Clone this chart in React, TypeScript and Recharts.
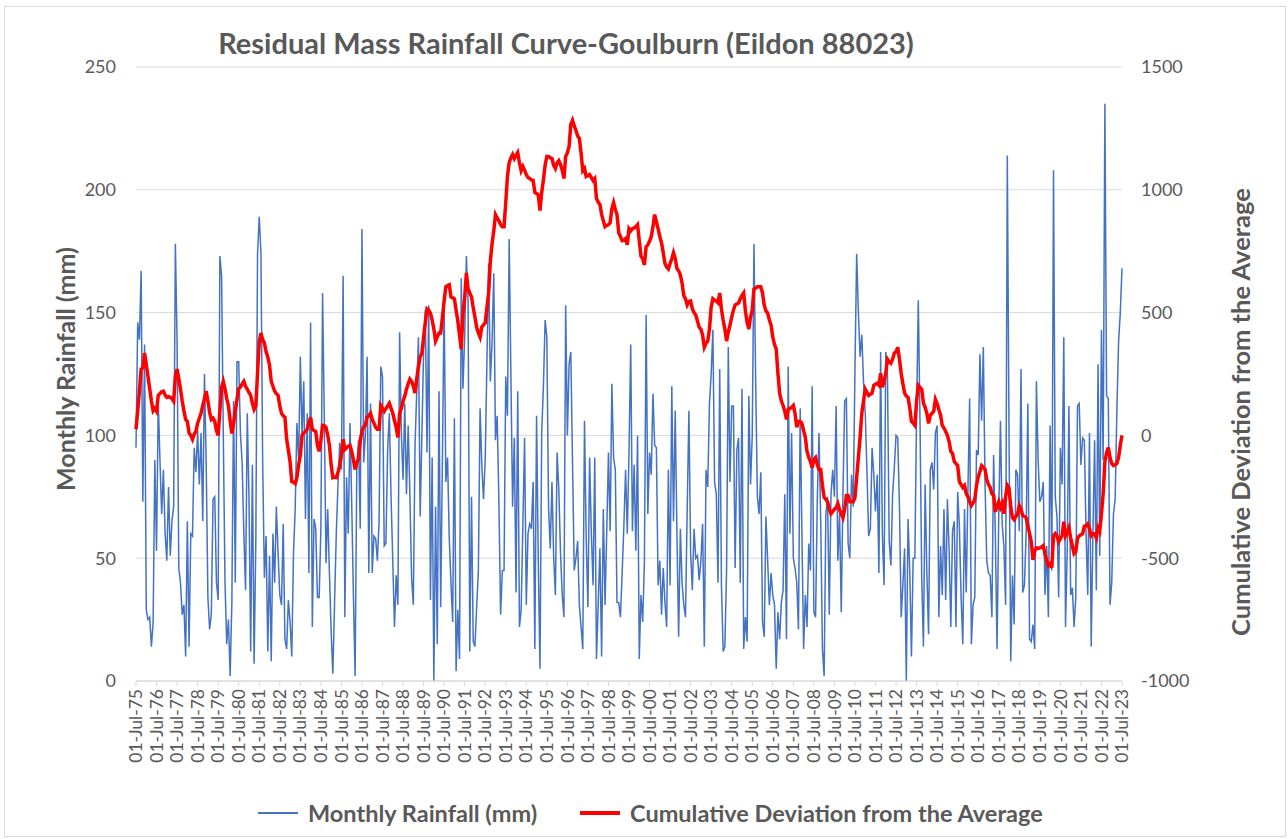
import React from 'react';
import { LineChart, Line, XAxis, YAxis, CartesianGrid } from 'recharts';

// x-axis tick labels, one per July (every 12 months)
const yearTicks = [
  '01-Jul-75', '01-Jul-76', '01-Jul-77', '01-Jul-78', '01-Jul-79', '01-Jul-80', '01-Jul-81',
  '01-Jul-82', '01-Jul-83', '01-Jul-84', '01-Jul-85', '01-Jul-86', '01-Jul-87', '01-Jul-88',
  '01-Jul-89', '01-Jul-90', '01-Jul-91', '01-Jul-92', '01-Jul-93', '01-Jul-94', '01-Jul-95',
  '01-Jul-96', '01-Jul-97', '01-Jul-98', '01-Jul-99', '01-Jul-00', '01-Jul-01', '01-Jul-02',
  '01-Jul-03', '01-Jul-04', '01-Jul-05', '01-Jul-06', '01-Jul-07', '01-Jul-08', '01-Jul-09',
  '01-Jul-10', '01-Jul-11', '01-Jul-12', '01-Jul-13', '01-Jul-14', '01-Jul-15', '01-Jul-16',
  '01-Jul-17', '01-Jul-18', '01-Jul-19', '01-Jul-20', '01-Jul-21', '01-Jul-22', '01-Jul-23',
];

const rainTicks = [0, 50, 100, 150, 200, 250];
const devTicks = [-1000, -500, 0, 500, 1000, 1500];

// monthly rainfall (mm), Jul-75 .. Jul-23, one row per July-June year
const rainfall = [
  95, 146, 139, 167, 73, 137, 29, 25, 26, 14, 24, 90,
  53, 114, 90, 68, 86, 60, 49, 79, 51, 65, 71, 178,
  138, 46, 40, 27, 31, 10, 65, 14, 60, 59, 95, 85,
  102, 80, 101, 65, 125, 89, 34, 21, 27, 74, 75, 40,
  33, 173, 165, 100, 40, 15, 25, 2, 32, 114, 40, 130,
  130, 101, 89, 60, 37, 109, 75, 12, 88, 7, 57, 174,
  189, 174, 89, 42, 59, 12, 51, 8, 60, 40, 71, 52,
  35, 31, 64, 17, 13, 33, 24, 10, 52, 70, 105, 90,
  132, 100, 122, 66, 109, 44, 146, 22, 66, 62, 34, 34,
  62, 158, 107, 48, 70, 44, 20, 3, 32, 60, 80, 97,
  86, 165, 26, 83, 60, 105, 73, 35, 2, 88, 98, 62,
  184, 89, 100, 132, 44, 113, 44, 59, 58, 49, 65, 128,
  124, 55, 56, 94, 109, 75, 49, 22, 43, 31, 142, 101,
  82, 113, 76, 104, 76, 42, 31, 96, 118, 140, 67, 100,
  134, 151, 93, 153, 33, 91, 0, 71, 15, 118, 30, 90,
  155, 81, 91, 58, 40, 24, 107, 4, 29, 9, 164, 119,
  140, 173, 155, 12, 75, 16, 14, 30, 45, 111, 88, 74,
  90, 130, 170, 122, 138, 166, 98, 108, 73, 27, 45, 45,
  124, 108, 180, 125, 71, 99, 36, 118, 22, 29, 64, 99,
  31, 60, 64, 62, 81, 13, 108, 49, 5, 101, 120, 147,
  140, 71, 54, 81, 50, 35, 93, 78, 52, 35, 26, 153,
  100, 129, 134, 89, 45, 50, 57, 31, 22, 13, 106, 58,
  30, 91, 60, 39, 91, 9, 31, 54, 10, 70, 31, 61,
  93, 61, 121, 91, 86, 32, 32, 26, 44, 63, 86, 60,
  93, 137, 61, 88, 53, 100, 9, 35, 24, 49, 149, 68,
  93, 84, 117, 96, 95, 39, 49, 27, 46, 32, 22, 86,
  39, 120, 65, 110, 60, 18, 62, 40, 31, 26, 70, 110,
  52, 37, 62, 50, 51, 41, 49, 64, 14, 86, 79, 113,
  125, 143, 81, 76, 40, 127, 39, 12, 14, 45, 136, 81,
  112, 112, 46, 94, 99, 40, 119, 13, 26, 16, 116, 80,
  100, 178, 122, 75, 68, 85, 24, 18, 67, 49, 31, 44,
  35, 31, 5, 28, 17, 32, 37, 76, 17, 128, 60, 101,
  50, 46, 40, 21, 111, 61, 13, 35, 22, 56, 45, 120,
  28, 26, 74, 101, 65, 13, 2, 68, 75, 27, 76, 86,
  75, 112, 49, 68, 28, 77, 114, 115, 56, 50, 84, 71,
  127, 174, 150, 132, 141, 122, 109, 86, 59, 62, 95, 84,
  69, 84, 44, 134, 60, 39, 134, 124, 57, 47, 76, 87,
  100, 99, 71, 26, 39, 54, 0, 66, 45, 10, 50, 50,
  109, 155, 106, 42, 14, 80, 44, 19, 86, 89, 78, 101,
  104, 26, 55, 35, 70, 33, 74, 53, 22, 61, 65, 22,
  77, 63, 34, 15, 70, 36, 78, 115, 15, 31, 34, 94,
  92, 133, 106, 136, 80, 49, 44, 43, 26, 92, 60, 13,
  68, 106, 64, 55, 31, 214, 100, 8, 43, 23, 86, 84,
  61, 127, 36, 39, 60, 113, 17, 16, 23, 13, 122, 90,
  73, 75, 81, 35, 55, 26, 104, 45, 208, 75, 67, 34,
  95, 80, 140, 22, 53, 112, 35, 38, 22, 34, 112, 113,
  88, 99, 98, 60, 35, 101, 14, 60, 98, 37, 129, 51,
  143, 90, 235, 116, 115, 31, 40, 68, 74, 110, 138, 150,
  168,
];

// cumulative deviation from the average, same months
const deviation = [
  25, 100, 180, 270, 275, 335, 290, 240, 190, 140, 100, 110,
  98, 163, 170, 178, 180, 165, 155, 158, 155, 150, 139, 240,
  270, 230, 188, 140, 100, 65, 57, 10, 0, -16, 5, 16,
  50, 70, 90, 122, 150, 180, 140, 95, 65, 70, 57, 20,
  0, 100, 196, 220, 190, 150, 122, 60, 8, 49, 100, 147,
  190, 196, 210, 220, 200, 188, 175, 163, 130, 106, 120, 253,
  380, 417, 390, 376, 340, 319, 286, 220, 200, 180, 170, 163,
  120, 90, 80, 74, -16, -60, -106, -188, -190, -196, -172, -120,
  -82, 0, 10, 16, 25, 50, 74, 25, 20, 16, -41, -65,
  -20, 41, 40, 33, 0, -41, -120, -172, -170, -172, -150, -123,
  -80, -16, -57, -50, -45, -41, -65, -100, -139, -110, -98, -20,
  16, 35, 41, 74, 80, 90, 65, 50, 33, 25, 25, 122,
  110, 98, 110, 120, 131, 110, 90, 60, 33, -8, 90, 110,
  139, 160, 188, 210, 229, 220, 200, 172, 230, 280, 319, 335,
  400, 460, 515, 510, 498, 470, 433, 384, 400, 417, 417, 480,
  547, 605, 610, 613, 564, 560, 556, 510, 466, 410, 351, 498,
  560, 662, 596, 580, 564, 520, 482, 440, 417, 400, 441, 450,
  458, 520, 580, 711, 780, 833, 899, 885, 874, 858, 850, 850,
  948, 1054, 1111, 1130, 1144, 1127, 1140, 1152, 1110, 1078, 1095, 1080,
  1062, 1050, 1046, 1040, 1038, 989, 985, 980, 915, 989, 1040, 1100,
  1136, 1136, 1130, 1127, 1100, 1087, 1110, 1119, 1103, 1080, 1046, 1136,
  1150, 1176, 1266, 1283, 1260, 1242, 1220, 1209, 1150, 1078, 1087, 1054,
  1058, 1062, 1050, 1038, 1046, 964, 950, 940, 900, 874, 850, 855,
  858, 866, 923, 948, 920, 899, 825, 810, 793, 795, 801, 776,
  842, 833, 842, 845, 850, 858, 793, 730, 719, 694, 768, 776,
  790, 809, 850, 899, 870, 842, 810, 784, 744, 700, 686, 678,
  700, 719, 744, 720, 680, 670, 654, 620, 570, 556, 531, 545,
  547, 515, 500, 490, 466, 440, 433, 408, 359, 375, 384, 433,
  523, 556, 550, 547, 540, 580, 515, 470, 433, 384, 420, 449,
  482, 510, 531, 535, 539, 556, 570, 580, 507, 460, 433, 482,
  510, 596, 600, 605, 605, 605, 580, 530, 507, 498, 470, 449,
  400, 370, 351, 253, 172, 140, 122, 98, 65, 106, 110, 114,
  122, 90, 33, 57, 57, 49, 20, -8, -65, -90, -106, -131,
  -98, -90, -120, -139, -139, -204, -253, -260, -270, -300, -319, -311,
  -300, -294, -278, -302, -320, -335, -302, -245, -245, -270, -270, -270,
  -253, -170, -90, -8, 90, 140, 188, 175, 163, 168, 172, 204,
  208, 212, 204, 253, 196, 220, 253, 310, 300, 294, 310, 335,
  340, 359, 310, 253, 210, 172, 160, 155, 114, 57, 50, 41,
  139, 204, 195, 188, 131, 114, 90, 49, 82, 90, 98, 147,
  130, 106, 82, 41, 30, 16, 0, -25, -65, -74, -106, -115,
  -123, -188, -200, -212, -204, -237, -250, -270, -286, -275, -261, -204,
  -170, -147, -123, -130, -139, -180, -200, -212, -237, -245, -311, -290,
  -270, -294, -278, -319, -250, -204, -215, -290, -335, -343, -330, -319,
  -286, -300, -327, -330, -335, -368, -400, -433, -507, -470, -458, -460,
  -458, -455, -449, -482, -510, -531, -523, -539, -409, -400, -409, -433,
  -420, -409, -351, -409, -395, -376, -417, -450, -482, -474, -420, -409,
  -405, -400, -370, -368, -360, -380, -409, -400, -400, -417, -376, -390,
  -319, -237, -106, -70, -49, -90, -114, -123, -120, -114, -90, -40,
  0,
];

const data = rainfall.map((rain, m) => ({ m, rain, dev: deviation[m] }));
const monthTicks = yearTicks.map((_, k) => k * 12);

const FONT = 'Lato, "Open Sans", sans-serif';
const GREY = '#595959';

function DateTick(props: any) {
  const { x, y, payload } = props;
  const label = yearTicks[Math.round(payload.value / 12)];
  return (
    <text
      x={x}
      y={y}
      transform={`rotate(-90 ${x} ${y})`}
      textAnchor="end"
      dy="0.35em"
      fill={GREY}
      fontSize={17.5}
      fontFamily={FONT}
    >
      {label}
    </text>
  );
}

const legendText: React.CSSProperties = {
  position: 'absolute',
  top: 813,
  transform: 'translateY(-50%)',
  whiteSpace: 'nowrap',
  fontSize: 23.5,
  fontWeight: 700,
  color: GREY,
};

export default function App() {
  return (
    <div
      style={{
        position: 'absolute',
        left: 0,
        top: 0,
        width: 1288,
        height: 839,
        background: '#fff',
        fontFamily: FONT,
      }}
    >
      <div
        style={{
          position: 'absolute',
          left: 4,
          top: 6,
          width: 1280,
          height: 829,
          border: '1px solid #d9d9d9',
        }}
      />
      <LineChart
        width={1288}
        height={839}
        data={data}
        margin={{ top: 67, right: 0, bottom: 0, left: 0 }}
      >
        <CartesianGrid yAxisId="left" vertical={false} stroke="#d9d9d9" strokeWidth={1} />
        <XAxis
          dataKey="m"
          type="number"
          domain={[0, 576]}
          ticks={monthTicks}
          interval={0}
          height={158}
          tick={<DateTick />}
          tickSize={5}
          tickMargin={3}
          axisLine={{ stroke: '#d9d9d9' }}
          tickLine={{ stroke: '#d9d9d9' }}
        />
        <YAxis
          yAxisId="left"
          width={136}
          domain={[0, 250]}
          ticks={rainTicks}
          axisLine={false}
          tickLine={false}
          tickSize={0}
          tickMargin={20}
          tick={{ fill: GREY, fontSize: 18, fontFamily: FONT }}
        />
        <YAxis
          yAxisId="right"
          orientation="right"
          width={166}
          domain={[-1000, 1500]}
          ticks={devTicks}
          axisLine={false}
          tickLine={false}
          tickSize={0}
          tickMargin={19}
          tick={{ fill: GREY, fontSize: 18, fontFamily: FONT, textAnchor: 'start' }}
        />
        <Line
          yAxisId="left"
          type="linear"
          dataKey="rain"
          stroke="#4472C4"
          strokeWidth={1.5}
          dot={false}
          isAnimationActive={false}
        />
        <Line
          yAxisId="right"
          type="linear"
          dataKey="dev"
          stroke="#FF0000"
          strokeWidth={3.5}
          dot={false}
          isAnimationActive={false}
        />
      </LineChart>

      <div
        style={{
          position: 'absolute',
          left: 566,
          top: 42,
          transform: 'translate(-50%, -50%)',
          whiteSpace: 'nowrap',
          fontSize: 29,
          fontWeight: 700,
          color: GREY,
        }}
      >
        Residual Mass Rainfall Curve-Goulburn (Eildon 88023)
      </div>

      <div
        style={{
          position: 'absolute',
          left: 65,
          top: 369,
          transform: 'translate(-50%, -50%) rotate(-90deg)',
          whiteSpace: 'nowrap',
          fontSize: 25,
          fontWeight: 700,
          color: GREY,
        }}
      >
        Monthly Rainfall (mm)
      </div>

      <div
        style={{
          position: 'absolute',
          left: 1240,
          top: 412,
          transform: 'translate(-50%, -50%) rotate(-90deg)',
          whiteSpace: 'nowrap',
          fontSize: 25.5,
          fontWeight: 700,
          color: GREY,
        }}
      >
        Cumulative Deviation from the Average
      </div>

      <div
        style={{ position: 'absolute', left: 258, top: 812, width: 40, height: 2, background: '#4472C4' }}
      />
      <div style={{ ...legendText, left: 308 }}>Monthly Rainfall (mm)</div>
      <div
        style={{ position: 'absolute', left: 580, top: 811, width: 40, height: 4, background: '#FF0000' }}
      />
      <div style={{ ...legendText, left: 630 }}>Cumulative Deviation from the Average</div>
    </div>
  );
}
